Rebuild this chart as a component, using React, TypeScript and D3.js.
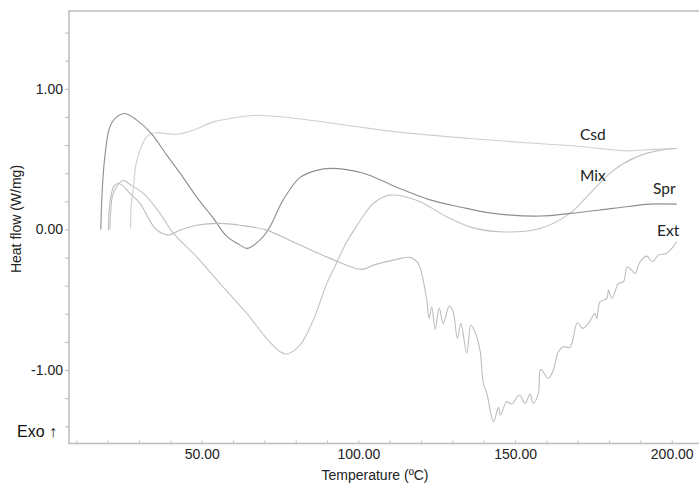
import { useEffect, useRef } from "react";
import * as d3 from "d3";

// [temperature °C, heat flow W/mg]
const spr: [number, number][] = [
  [17.8, 0.0], [18.1, 0.21], [18.6, 0.4], [19.1, 0.52], [20.7, 0.73], [22.9, 0.8],
  [25.5, 0.824], [29.3, 0.777], [34.0, 0.68], [38.8, 0.53], [43.1, 0.4], [48.4, 0.23],
  [53.7, 0.08], [58.0, -0.05], [62.2, -0.11], [64.4, -0.135], [69.1, -0.064], [71.8, 0.02],
  [76.0, 0.21], [81.4, 0.37], [86.7, 0.42], [91.0, 0.434], [101.6, 0.4], [112.2, 0.3],
  [122.9, 0.21], [132.4, 0.16], [143.1, 0.114], [158.0, 0.095], [167.5, 0.114],
  [181.4, 0.15], [193.2, 0.18], [201.6, 0.18]
];

const mix: [number, number][] = [
  [20.7, 0.0], [21.0, 0.14], [21.6, 0.244], [23.0, 0.31], [25.0, 0.35], [27.1, 0.32],
  [31.4, 0.256], [36.7, 0.114], [41.0, -0.028], [48.4, -0.195], [55.8, -0.384],
  [64.4, -0.597], [70.7, -0.775], [75.0, -0.87], [77.1, -0.886], [81.4, -0.822],
  [85.6, -0.645], [90.0, -0.38], [93.0, -0.24], [96.0, -0.1], [99.0, 0.01],
  [102.0, 0.11], [105.0, 0.19], [110.1, 0.244], [118.6, 0.208], [128.2, 0.09], [135.6, 0.018],
  [145.2, -0.017], [158.0, 0.007], [167.5, 0.114], [173.9, 0.256], [181.4, 0.42],
  [188.8, 0.516], [196.3, 0.564], [201.6, 0.576]
];

const csd: [number, number][] = [
  [27.3, 0.007], [27.5, 0.17], [28.2, 0.3], [29.0, 0.457], [30.3, 0.564], [32.4, 0.658],
  [33.8, 0.68], [35.6, 0.688], [42.0, 0.677], [47.3, 0.706], [53.7, 0.765], [62.2, 0.8],
  [67.6, 0.812], [80.3, 0.789], [96.3, 0.741], [112.2, 0.694], [135.6, 0.647],
  [153.7, 0.616], [169.7, 0.592], [185.6, 0.559], [194.1, 0.569], [201.6, 0.576]
];

const ext: [number, number][] = [
  [20.2, -0.005], [20.6, 0.17], [21.3, 0.265], [22.0, 0.31], [23.4, 0.327], [24.9, 0.31],
  [27.1, 0.256], [30.3, 0.185], [33.0, 0.08], [35.0, 0.01], [36.7, -0.02], [39.3, -0.04],
  [43.1, -0.005], [48.4, 0.03], [55.8, 0.043], [62.2, 0.03], [70.7, -0.005], [80.3, -0.1],
  [91.0, -0.206], [101.1, -0.284], [104.8, -0.254], [112.2, -0.213], [116.5, -0.199],
  [119.1, -0.242], [120.2, -0.313], [121.8, -0.5], [122.6, -0.633], [123.4, -0.55],
  [124.5, -0.71], [125.8, -0.56], [127.1, -0.668], [129.0, -0.545], [130.1, -0.573],
  [131.6, -0.775], [132.7, -0.668], [134.6, -0.881], [135.9, -0.68], [137.2, -0.728],
  [138.8, -0.858], [139.9, -1.095], [141.0, -1.166], [143.1, -1.367], [144.7, -1.266],
  [145.4, -1.32], [147.3, -1.225], [148.9, -1.242], [151.4, -1.178], [153.2, -1.237],
  [154.8, -1.17], [155.8, -1.237], [157.4, -1.17], [158.2, -0.995], [160.6, -1.059],
  [162.2, -1.0], [163.8, -0.87], [165.4, -0.834], [167.5, -0.839], [169.9, -0.664],
  [171.6, -0.704], [173.4, -0.668], [175.5, -0.597], [176.1, -0.633], [177.1, -0.515],
  [179.3, -0.49], [179.8, -0.431], [180.9, -0.49], [183.0, -0.384], [184.6, -0.372],
  [185.8, -0.266], [187.2, -0.289], [188.3, -0.313], [189.9, -0.23], [192.0, -0.19],
  [193.9, -0.23], [195.7, -0.183], [198.4, -0.17], [200.1, -0.133], [201.6, -0.088]
];

const seriesNames = ["Csd", "Mix", "Spr", "Ext"];
const seriesColors = ["#cfcfcf", "#c2c2c2", "#8e8e8e", "#bdbdbd"];
const labelPos: [number, number][] = [[580, 140], [580, 181], [653, 194], [657, 236]];

const xTicks = d3.range(10, 201, 10);
const yTicks = d3.range(-1.4, 1.41, 0.2).map(v => Math.round(v * 10) / 10);

export default function App() {
  const ref = useRef<SVGSVGElement>(null);

  useEffect(() => {
    const svg = d3.select(ref.current);
    svg.selectAll("*").remove();

    const width = 699;
    const height = 484;
    const left = 69, top = 11, right = 699, bottom = 443.5;

    const x = d3.scaleLinear().domain([7.65, 208.7]).range([left, right]);
    const y = d3.scaleLinear().domain([-1.5226, 1.5535]).range([bottom, top]);

    svg.attr("width", width).attr("height", height);

    // frame: left, top, bottom
    svg.append("path")
      .attr("d", `M${right},${top}H${left}V${bottom}H${right}`)
      .attr("fill", "none")
      .attr("stroke", "#bdbdbd")
      .attr("stroke-width", 1.5);

    const font = "'Liberation Sans', Arial, sans-serif";

    const yAxis = d3.axisLeft(y)
      .tickValues(yTicks)
      .tickSize(4)
      .tickPadding(2)
      .tickFormat(d => (Math.abs(+d) % 1 < 1e-6 ? (+d).toFixed(2) : ""));
    const gy = svg.append("g").attr("transform", `translate(${left},0)`).call(yAxis);
    gy.select(".domain").remove();
    gy.selectAll("line").attr("stroke", "#bdbdbd");
    gy.selectAll("text").attr("font-size", 14).attr("font-family", font).attr("fill", "#222");

    const xAxis = d3.axisBottom(x)
      .tickValues(xTicks)
      .tickSize(-3)
      .tickPadding(6)
      .tickFormat(d => (+d % 50 === 0 ? (+d).toFixed(2) : ""));
    const gx = svg.append("g").attr("transform", `translate(0,${bottom})`).call(xAxis);
    gx.select(".domain").remove();
    gx.selectAll("line").attr("stroke", "#bdbdbd");
    gx.selectAll("text").attr("font-size", 14).attr("font-family", font).attr("fill", "#222");

    const line = d3.line<[number, number]>()
      .x(d => x(d[0]))
      .y(d => y(d[1]))
      .curve(d3.curveCatmullRom.alpha(0.5));

    [csd, mix, spr, ext].forEach((data, i) => {
      svg.append("path")
        .datum(data)
        .attr("d", line)
        .attr("fill", "none")
        .attr("stroke", seriesColors[i])
        .attr("stroke-width", 1.1);
    });

    seriesNames.forEach((name, i) => {
      svg.append("text")
        .attr("x", labelPos[i][0])
        .attr("y", labelPos[i][1])
        .attr("font-family", "Lato, 'Open Sans', sans-serif")
        .attr("font-size", 15.5)
        .attr("fill", "#222")
        .text(name);
    });

    svg.append("text")
      .attr("transform", `translate(21,219) rotate(-90)`)
      .attr("text-anchor", "middle")
      .attr("font-family", font)
      .attr("font-size", 14)
      .attr("fill", "#222")
      .text("Heat flow (W/mg)");

    svg.append("text")
      .attr("x", 375)
      .attr("y", 480)
      .attr("text-anchor", "middle")
      .attr("font-family", font)
      .attr("font-size", 14)
      .attr("fill", "#222")
      .text("Temperature (ºC)");

    svg.append("text")
      .attr("x", 17)
      .attr("y", 437)
      .attr("font-family", font)
      .attr("font-size", 16)
      .attr("fill", "#111")
      .text("Exo ↑");
  }, []);

  return <svg ref={ref} style={{ position: "absolute", left: 0, top: 0, display: "block" }}></svg>;
}
